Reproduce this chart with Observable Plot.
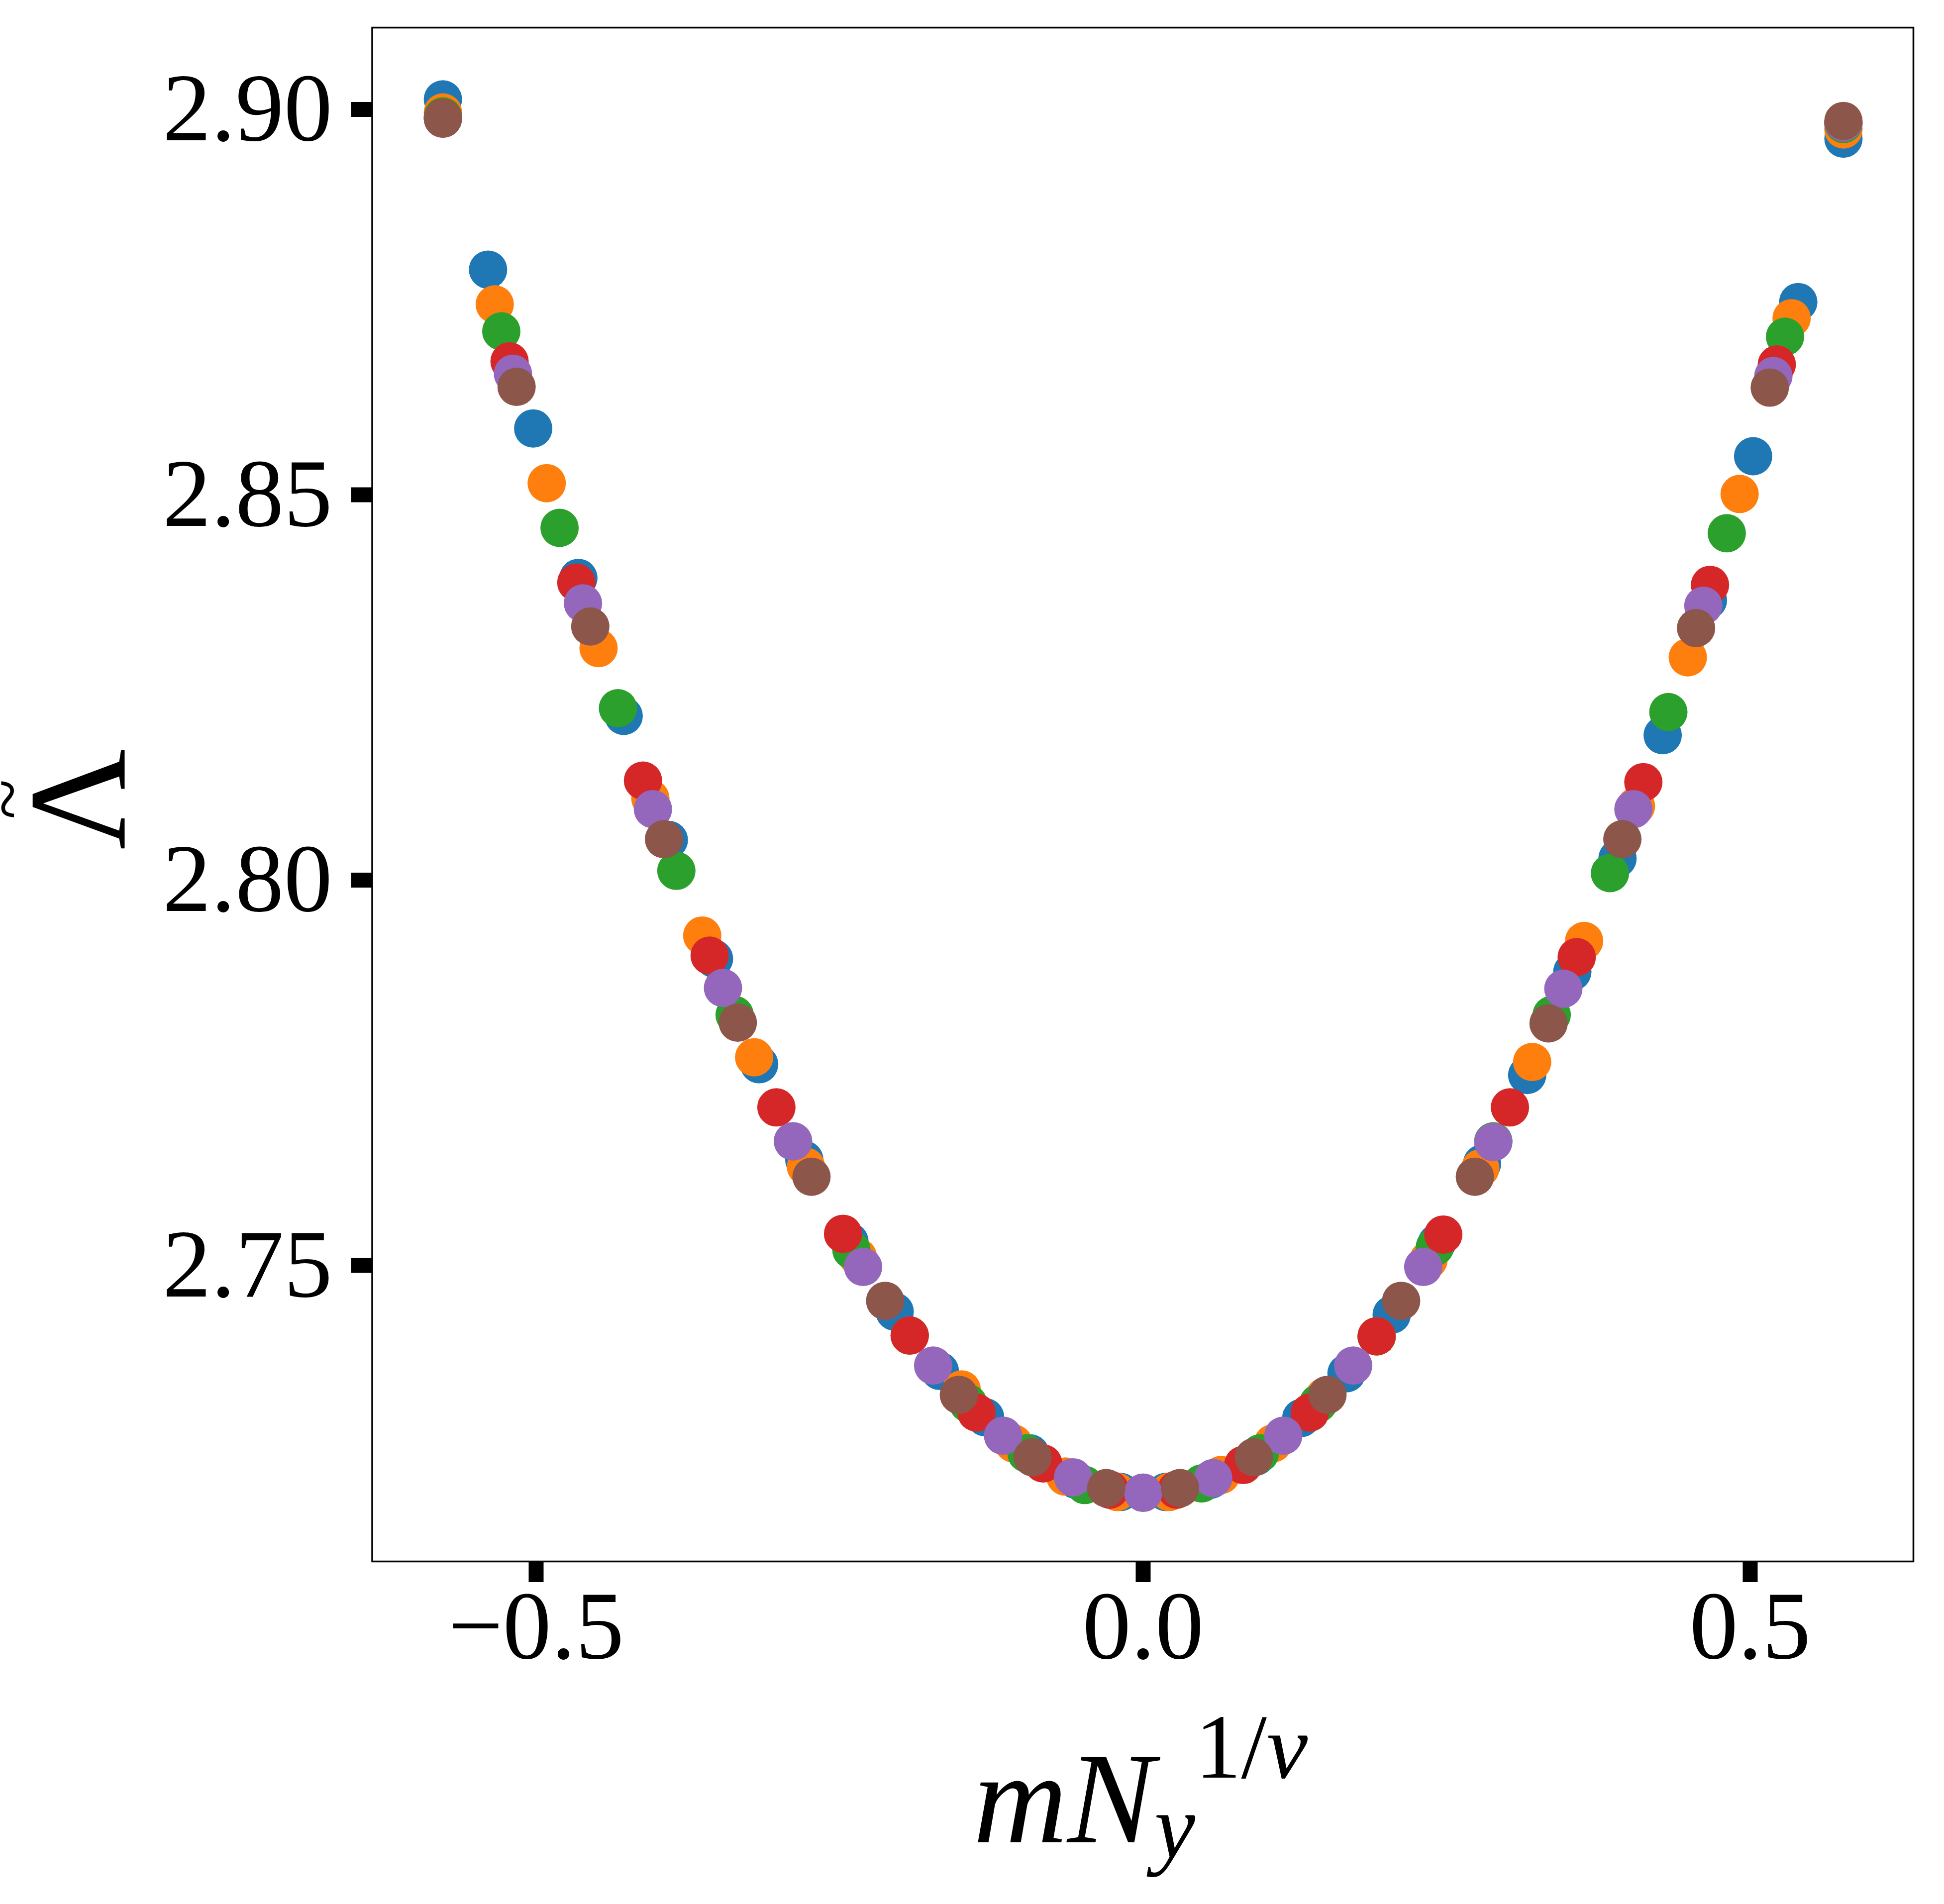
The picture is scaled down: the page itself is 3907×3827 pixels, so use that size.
<!DOCTYPE html>
<html>
<head>
<meta charset="utf-8">
<script src="https://cdn.jsdelivr.net/npm/d3@7"></script>
<script src="https://cdn.jsdelivr.net/npm/@observablehq/plot@0.6"></script>
<style>
  html, body { margin: 0; padding: 0; background: #fff; }
  svg { display: block; }
</style>
</head>
<body>
<div id="chart"></div>
<script>
// ---- data ----
const seriesNames = ["A", "B", "C", "D", "E", "F"];
const seriesColors = ["#1f77b4", "#ff7f0e", "#2ca02c", "#d62728", "#9467bd", "#8c564b"];

const xBlue = [-0.5768,-0.5396,-0.5024,-0.4652,-0.4279,-0.3907,-0.3535,-0.3163,-0.2791,-0.2419,-0.2047,-0.1675,-0.1302,-0.0930,-0.0558,-0.0186,0.0186,0.0558,0.0930,0.1302,0.1675,0.2047,0.2419,0.2791,0.3163,0.3535,0.3907,0.4279,0.4652,0.5024,0.5396,0.5768];
const yBlue = [2.9013,2.8792,2.8586,2.8392,2.8213,2.8052,2.7898,2.7761,2.7637,2.7531,2.7440,2.7363,2.7303,2.7256,2.7222,2.7206,2.7206,2.7222,2.7252,2.7302,2.7360,2.7436,2.7529,2.7632,2.7747,2.7881,2.8028,2.8188,2.8363,2.8550,2.8750,2.8962];

const xOrange = [-0.5768,-0.5341,-0.4913,-0.4486,-0.4059,-0.3632,-0.3204,-0.2777,-0.2350,-0.1923,-0.1495,-0.1068,-0.0641,-0.0214,0.0214,0.0641,0.1068,0.1495,0.1923,0.2350,0.2777,0.3204,0.3632,0.4059,0.4486,0.4913,0.5341,0.5768];
const yOrange = [2.8996,2.8747,2.8515,2.8301,2.8106,2.7928,2.7770,2.7628,2.7511,2.7409,2.7339,2.7269,2.7226,2.7206,2.7206,2.7228,2.7269,2.7330,2.7408,2.7507,2.7626,2.7764,2.7921,2.8096,2.8289,2.8501,2.8729,2.8974];

const xGreen = [-0.5768,-0.5287,-0.4807,-0.4326,-0.3845,-0.3365,-0.2884,-0.2403,-0.1923,-0.1442,-0.0961,-0.0481,0,0.0481,0.0961,0.1442,0.1923,0.2403,0.2884,0.3365,0.3845,0.4326,0.4807,0.5287,0.5768];
const yGreen = [2.8991,2.8712,2.8457,2.8223,2.8012,2.7825,2.7661,2.7520,2.7409,2.7321,2.7256,2.7215,2.7205,2.7217,2.7256,2.7321,2.7408,2.7524,2.7661,2.7825,2.8009,2.8218,2.8450,2.8705,2.8981];

const xRed = [-0.5768,-0.5219,-0.4669,-0.4120,-0.3571,-0.3021,-0.2472,-0.1923,-0.1373,-0.0824,-0.0275,0.0275,0.0824,0.1373,0.1923,0.2472,0.3021,0.3571,0.4120,0.4669,0.5219,0.5768];
const yRed = [2.8989,2.8673,2.8386,2.8129,2.7902,2.7705,2.7541,2.7409,2.7309,2.7243,2.7209,2.7209,2.7241,2.7309,2.7408,2.7540,2.7705,2.7900,2.8127,2.8383,2.8669,2.8983];

const xPurple = [-0.5768,-0.5191,-0.4614,-0.4038,-0.3461,-0.2884,-0.2307,-0.1730,-0.1154,-0.0577,0,0.0577,0.1154,0.1730,0.2307,0.2884,0.3461,0.4038,0.4614,0.5191,0.5768];
const yPurple = [2.8988,2.8657,2.8359,2.8092,2.7860,2.7661,2.7498,2.7370,2.7279,2.7225,2.7205,2.7224,2.7279,2.7370,2.7498,2.7660,2.7859,2.8092,2.8356,2.8654,2.8983];

const xBrown = [-0.5768,-0.5161,-0.4554,-0.3947,-0.3339,-0.2732,-0.2125,-0.1518,-0.0911,-0.0304,0.0304,0.0911,0.1518,0.2125,0.2732,0.3339,0.3947,0.4554,0.5161,0.5768];
const yBrown = [2.8988,2.8640,2.8329,2.8053,2.7815,2.7615,2.7454,2.7332,2.7251,2.7211,2.7211,2.7251,2.7332,2.7454,2.7615,2.7814,2.8053,2.8327,2.8639,2.8985];

const xTicks = [-0.5, 0.0, 0.5];
const yTicks = [2.75, 2.80, 2.85, 2.90];
const yLabelBase = "Λ";
const yLabelAccent = "~";
const xLabelMain = "mN";
const xLabelSub = "y";
const xLabelSupA = "1/";
const xLabelSupB = "ν";

// ---- table for the library ----
const seriesX = [xBlue, xOrange, xGreen, xRed, xPurple, xBrown];
const seriesY = [yBlue, yOrange, yGreen, yRed, yPurple, yBrown];
const table = [];
seriesNames.forEach((name, s) => {
  seriesX[s].forEach((xv, i) => table.push({series: name, x: xv, y: seriesY[s][i]}));
});

const W = 3907, H = 3827;
const ML = 747.5, MR = 62, MT = 55, MB = 689;
const FONT = "'Liberation Serif', 'DejaVu Serif', serif";
const midY = MT + (H - MT - MB) / 2;

const chart = Plot.plot({
  width: W,
  height: H,
  marginLeft: ML,
  marginRight: MR,
  marginTop: MT,
  marginBottom: MB,
  style: {fontFamily: FONT, background: "white", color: "black", overflow: "visible"},
  x: {domain: [-0.63504, 0.63443]},
  y: {domain: [2.711582, 2.910613]},
  color: {domain: seriesNames, range: seriesColors},
  marks: [
    Plot.dot(table, {x: "x", y: "y", fill: "series", r: 38.5}),
    Plot.frame({stroke: "black", strokeWidth: 3.5}),
    Plot.axisX({ticks: xTicks, tickFormat: d3.format(".1f"), tickSize: 42, tickPadding: 14,
                strokeWidth: 30, fontSize: 195, label: null}),
    Plot.axisY({ticks: yTicks, tickFormat: d3.format(".2f"), tickSize: 42, tickPadding: 38,
                strokeWidth: 30, fontSize: 195, label: null}),
    // y-axis label: Lambda with tilde, rotated
    Plot.text([yLabelBase], {frameAnchor: "left", dx: 250 - ML, dy: 1606 - midY, rotate: -90,
                             textAnchor: "middle", lineAnchor: "bottom", fontSize: 280, fontFamily: FONT}),
    Plot.text([yLabelAccent], {frameAnchor: "left", dx: 16 - ML, dy: 1606 - midY, rotate: -90,
                               textAnchor: "middle", lineAnchor: "middle", fontSize: 150, fontFamily: FONT})
  ]
});

document.getElementById("chart").appendChild(chart);

// x-axis label with sub/superscripts
const svg = d3.select(chart);
const t = svg.append("text")
  .attr("x", 2292).attr("y", 3703)
  .attr("text-anchor", "middle")
  .attr("font-size", 262)
  .attr("font-family", FONT)
  .attr("fill", "black");
t.append("tspan").attr("font-style", "italic").text(xLabelMain);
t.append("tspan").attr("font-style", "italic").attr("font-size", 185).attr("dy", 30).text(xLabelSub);
t.append("tspan").attr("font-size", 185).attr("dy", -160).text(xLabelSupA);
t.append("tspan").attr("font-style", "italic").attr("font-size", 185).text(xLabelSupB);
</script>
</body>
</html>
